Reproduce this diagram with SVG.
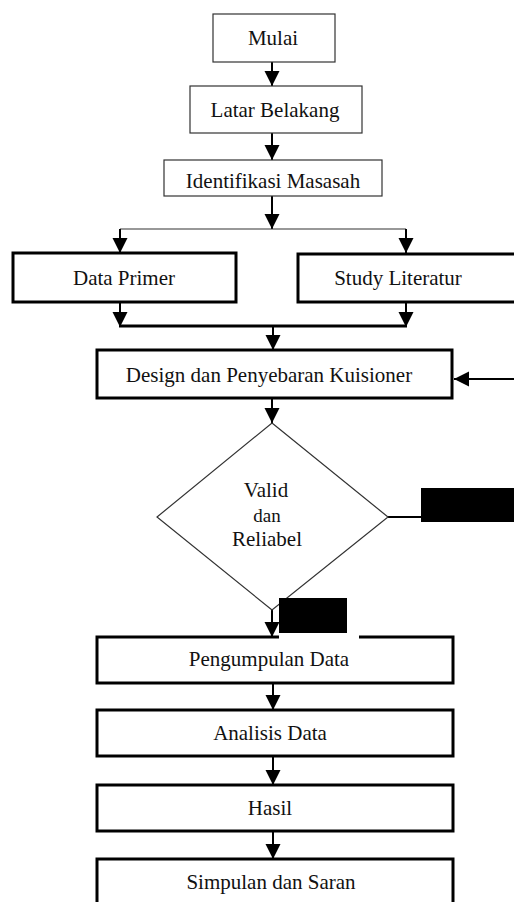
<svg xmlns="http://www.w3.org/2000/svg" width="514" height="902" viewBox="0 0 514 902">
<style>
.thin{fill:#fff;stroke:#333;stroke-width:1.2}
.thick{fill:#fff;stroke:#000;stroke-width:3}
.lbl{font-family:"Liberation Serif","Times New Roman",serif;font-size:21px;fill:#111;text-anchor:middle}
.sm{font-size:19px}
.c{fill:none;stroke:#000;stroke-width:2}
.cthin{fill:none;stroke:#333;stroke-width:1.2}
.cthick{fill:none;stroke:#000;stroke-width:3}
</style>
<defs>
<marker id="ah" markerUnits="userSpaceOnUse" markerWidth="16" markerHeight="16" refX="15" refY="7.5" orient="auto">
<path d="M0,0 L15,7.5 L0,15 z" fill="#000"/>
</marker>
</defs>
<rect width="514" height="902" fill="#fff"/>
<g id="connectors">
<line class="c" x1="272" y1="62" x2="272" y2="86" marker-end="url(#ah)"/>
<line class="c" x1="272" y1="133" x2="272" y2="160" marker-end="url(#ah)"/>
<line class="c" x1="272" y1="196" x2="272" y2="229" marker-end="url(#ah)"/>
<line class="cthin" x1="120" y1="229" x2="406" y2="229"/>
<line class="c" x1="120" y1="229" x2="120" y2="253" marker-end="url(#ah)"/>
<line class="c" x1="406" y1="229" x2="406" y2="253" marker-end="url(#ah)"/>
<line class="c" x1="120" y1="302" x2="120" y2="327" marker-end="url(#ah)"/>
<line class="c" x1="406" y1="302" x2="406" y2="327" marker-end="url(#ah)"/>
<line class="cthick" x1="119" y1="326" x2="407" y2="326"/>
<line class="c" x1="273" y1="326" x2="273" y2="350" marker-end="url(#ah)"/>
<line class="c" x1="514" y1="379" x2="454" y2="379" marker-end="url(#ah)"/>
<line class="c" x1="272" y1="398" x2="272" y2="423" marker-end="url(#ah)"/>
<line class="c" x1="388" y1="517" x2="421" y2="517"/>
<line class="c" x1="272" y1="610" x2="272" y2="637" marker-end="url(#ah)"/>
<line class="c" x1="273" y1="683" x2="273" y2="710" marker-end="url(#ah)"/>
<line class="c" x1="273" y1="756" x2="273" y2="785" marker-end="url(#ah)"/>
<line class="c" x1="273" y1="831" x2="273" y2="859" marker-end="url(#ah)"/>
</g>
<g id="mulai"><rect class="thin" x="213" y="14" width="122" height="48"/><text class="lbl" x="273" y="45">Mulai</text></g>
<g id="latar"><rect class="thin" x="190" y="86" width="172" height="47"/><text class="lbl" x="275" y="117">Latar Belakang</text></g>
<g id="identifikasi"><rect class="thin" x="164" y="160" width="218" height="36"/><text class="lbl" x="273" y="188">Identifikasi Masasah</text></g>
<g id="dataprimer"><rect class="thick" x="13" y="253" width="223" height="49"/><text class="lbl" x="124" y="285">Data Primer</text></g>
<g id="study"><rect class="thick" x="298" y="254" width="220" height="48"/><text class="lbl" x="398" y="285">Study Literatur</text></g>
<g id="design"><rect class="thick" x="97" y="350" width="355" height="48"/><text class="lbl" x="269" y="382">Design dan Penyebaran Kuisioner</text></g>
<g id="valid">
<polygon class="thin" points="272,423 388,517 272,610 157,517"/>
<text class="lbl" x="266" y="497">Valid</text>
<text class="lbl sm" x="267" y="522">dan</text>
<text class="lbl" x="267" y="546">Reliabel</text>
</g>
<g id="redact1"><rect x="421" y="488" width="93" height="34" fill="#000"/></g>
<g id="pengumpulan"><rect class="thick" x="97" y="637" width="356" height="46"/><rect x="279" y="634" width="80" height="5" fill="#fff"/><text class="lbl" x="269" y="666">Pengumpulan Data</text></g>
<g id="redact2"><rect x="279" y="598" width="68" height="35" fill="#000"/></g>
<g id="analisis"><rect class="thick" x="97" y="710" width="356" height="46"/><text class="lbl" x="270" y="740">Analisis Data</text></g>
<g id="hasil"><rect class="thick" x="97" y="785" width="356" height="46"/><text class="lbl" x="270" y="815">Hasil</text></g>
<g id="simpulan"><rect class="thick" x="97" y="859" width="356" height="60"/><text class="lbl" x="271" y="889">Simpulan dan Saran</text></g>
</svg>
